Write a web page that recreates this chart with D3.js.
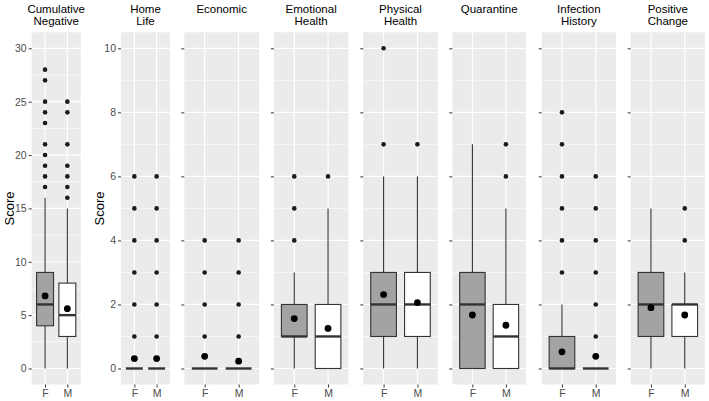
<!DOCTYPE html>
<html><head><meta charset="utf-8">
<script src="https://cdn.jsdelivr.net/npm/d3@7"></script>
<style>
body{margin:0;background:#fff;}
svg{display:block;font-family:"Liberation Sans",Arial,sans-serif;}
</style></head>
<body><svg id="chart" width="709" height="401"></svg>
<script>
// ---- data ----
const categories = ["F", "M"];
const panelTitles = [["Cumulative","Negative"],["Home","Life"],["Economic"],["Emotional","Health"],["Physical","Health"],["Quarantine"],["Infection","History"],["Positive","Change"]];
// [lowerWhisker, Q1, median, Q3, upperWhisker]
const femaleStats = [[0,4,6,9,16],[0,0,0,0,0],[0,0,0,0,0],[0,1,1,2,3],[0,1,2,3,6],[0,0,2,3,7],[0,0,0,1,2],[0,1,2,3,5]];
const maleStats   = [[0,3,5,8,15],[0,0,0,0,0],[0,0,0,0,0],[0,0,1,2,5],[0,1,2,3,6],[0,0,1,2,5],[0,0,0,0,0],[0,1,2,2,3]];
const femaleMeans = [6.8,0.31,0.38,1.56,2.31,1.67,0.52,1.9];
const maleMeans   = [5.6,0.31,0.23,1.25,2.06,1.35,0.38,1.67];
const femaleOutliers = [[17,18,19,20,21,23,24,25,27,28],[1,2,3,4,5,6],[1,2,3,4],[4,5,6],[7,10],[],[3,4,5,6,7,8],[]];
const maleOutliers   = [[16,17,18,19,21,24,25],[1,2,3,4,5,6],[1,2,3,4],[6],[7],[6,7],[1,2,3,4,5,6],[4,5]];
const yTicksWide = [0,5,10,15,20,25,30];
const yTicksNarrow = [0,2,4,6,8,10];

// ---- layout ----
const panelX = [[31.7,80.7],[121,170],[184.3,259],[274,348.3],[363.3,437.7],[452.3,526],[541.7,616],[630.7,705]];
const plotTop = 32.3, plotBottom = 384.5;
const fills = {F:"#a3a3a3", M:"#ffffff"};
const svg = d3.select("#chart");

panelTitles.forEach((title, i) => {
  const [x0, x1] = panelX[i];
  const wide = i === 0;
  const ticks = wide ? yTicksWide : yTicksNarrow;
  const y = d3.scaleLinear().domain(wide ? [-1.5, 31.5] : [-0.5, 10.5]).range([plotBottom, plotTop]);
  const x = d3.scalePoint().domain(categories).range([x0, x1]).padding(0.6);
  const step = x.step();
  const bw = step * 0.76;
  const g = svg.append("g");

  g.append("rect").attr("x", x0).attr("y", plotTop).attr("width", x1 - x0).attr("height", plotBottom - plotTop).attr("fill", "#ebebeb");
  const half = (ticks[1] - ticks[0]) / 2;
  const minor = ticks.map(t => t + half).filter(t => t < y.domain()[1]);
  g.selectAll(".minor").data(minor).join("line")
    .attr("x1", x0).attr("x2", x1).attr("y1", d => y(d)).attr("y2", d => y(d))
    .attr("stroke", "#fff").attr("stroke-width", 0.6);
  g.selectAll(".major").data(ticks).join("line")
    .attr("x1", x0).attr("x2", x1).attr("y1", d => y(d)).attr("y2", d => y(d))
    .attr("stroke", "#fff").attr("stroke-width", 1.2);
  g.selectAll(".vmajor").data(categories).join("line")
    .attr("x1", d => x(d)).attr("x2", d => x(d)).attr("y1", plotTop).attr("y2", plotBottom)
    .attr("stroke", "#fff").attr("stroke-width", 1.2);

  // y axis
  const ya = g.append("g").attr("transform", `translate(${x0},0)`)
    .call(d3.axisLeft(y).tickValues(ticks).tickSize(3).tickPadding(2)
      .tickFormat(i <= 1 ? d3.format("d") : () => ""));
  ya.select(".domain").remove();
  ya.selectAll(".tick line").attr("stroke", "#333").attr("stroke-width", 1);
  ya.selectAll(".tick text").attr("fill", "#4d4d4d").style("font-size", "10.5px").style("font-family", "Liberation Sans, Arial, sans-serif");

  // x axis
  const xa = g.append("g").attr("transform", `translate(0,${plotBottom})`)
    .call(d3.axisBottom(x).tickSize(3).tickPadding(2));
  xa.select(".domain").remove();
  xa.selectAll(".tick line").attr("stroke", "#333").attr("stroke-width", 1);
  xa.selectAll(".tick text").attr("fill", "#4d4d4d").style("font-size", "10.5px").style("font-family", "Liberation Sans, Arial, sans-serif");

  // y title
  if (i <= 1) {
    const tx = i === 0 ? 13.5 : 104;
    g.append("text").attr("transform", `translate(${tx},${(plotTop + plotBottom) / 2}) rotate(-90)`)
      .attr("text-anchor", "middle").style("font-size", "13px").attr("fill", "#000").text("Score");
  }

  // title
  const tt = g.append("text").attr("text-anchor", "middle").attr("fill", "#000").style("font-size", "11.5px");
  title.forEach((line, k) => {
    tt.append("tspan").attr("x", (x0 + x1) / 2).attr("y", 13 + k * 12).text(line);
  });

  // boxes
  const series = [
    {cat: "F", s: femaleStats[i], m: femaleMeans[i], o: femaleOutliers[i]},
    {cat: "M", s: maleStats[i], m: maleMeans[i], o: maleOutliers[i]}
  ];
  series.forEach(d => {
    const cx = x(d.cat);
    const [lo, q1, med, q3, hi] = d.s;
    const bg = g.append("g");
    bg.append("line").attr("x1", cx).attr("x2", cx).attr("y1", y(q3)).attr("y2", y(hi)).attr("stroke", "#333").attr("stroke-width", 1.1);
    bg.append("line").attr("x1", cx).attr("x2", cx).attr("y1", y(q1)).attr("y2", y(lo)).attr("stroke", "#333").attr("stroke-width", 1.1);
    bg.append("rect").attr("x", cx - bw / 2).attr("width", bw)
      .attr("y", y(q3)).attr("height", Math.max(0, y(q1) - y(q3)))
      .attr("fill", fills[d.cat]).attr("stroke", "#333").attr("stroke-width", 1.1);
    bg.append("line").attr("x1", cx - bw / 2).attr("x2", cx + bw / 2).attr("y1", y(med)).attr("y2", y(med))
      .attr("stroke", "#333").attr("stroke-width", 2.4);
    bg.selectAll(".out").data(d.o).join("circle")
      .attr("cx", cx).attr("cy", v => y(v)).attr("r", 2.3).attr("fill", "#1a1a1a");
    bg.append("circle").attr("cx", cx).attr("cy", y(d.m)).attr("r", 3.4).attr("fill", "#000");
  });
});
</script></body></html>
